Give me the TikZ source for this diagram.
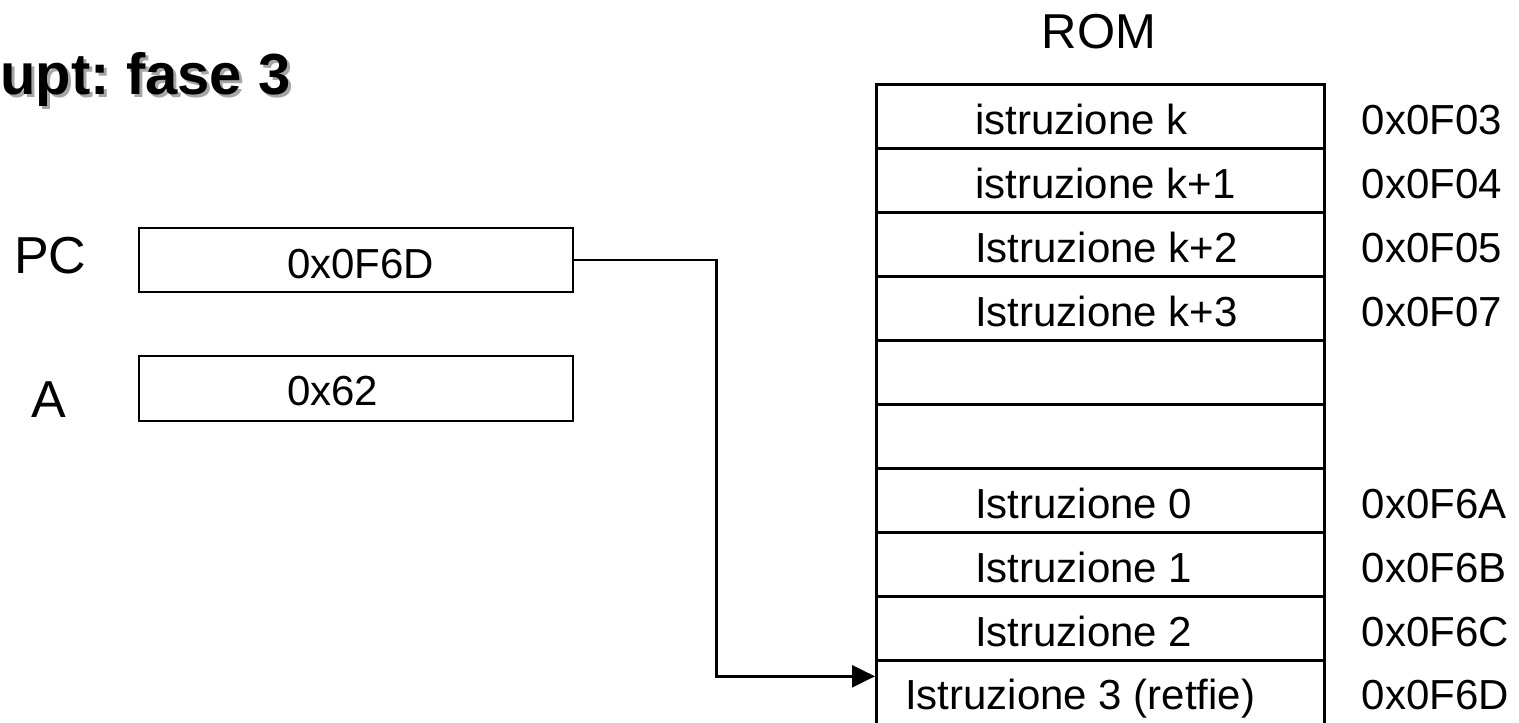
\documentclass[tikz,border=0pt]{standalone}
\usepackage{fontspec}
\setmainfont{Liberation Sans}
\usetikzlibrary{arrows.meta}
\newcommand\fsz[1]{\fontsize{#1}{#1}\selectfont}
\begin{document}
\begin{tikzpicture}[x=1pt,y=-1pt,
  reg/.style={draw,line width=2.2pt,minimum width=434pt,minimum height=64pt,inner sep=0pt,anchor=north west},
  cell/.style={draw,line width=2.6pt,minimum width=448pt,minimum height=64pt,inner sep=0pt,anchor=north west},
  txt/.style={inner sep=0pt,anchor=base west,font=\fsz{42}},
  big/.style={inner sep=0pt,anchor=base west,font=\fsz{52}},
  ttl/.style={inner sep=0pt,anchor=base west,font=\fsz{58}\bfseries},
  link/.style={line width=2.6pt,-{Triangle[length=23pt,width=22pt]}}]
\useasboundingbox (0,0) rectangle (1519,723);

% title with drop shadow
\node[ttl,text=black!35] (titleshadow) at (3,97) {upt:\hspace{-5pt} fase 3};
\node[ttl] (title) at (0,94) {upt:\hspace{-5pt} fase 3};

% registers
\node[big] (pclabel) at (14,273) {PC};
\node[big] (alabel) at (31,417) {A};
\node[reg] (pc) at (138,227) {};
\node[reg,minimum height=65pt] (areg) at (138,355) {};
\node[txt] (pcval) at ([shift={(149,51)}]pc.north west) {0x0F6D};
\node[txt] (aval) at ([shift={(149,50)}]areg.north west) {0x62};

% ROM
\node[inner sep=0pt,anchor=base,font=\fsz{49}] (romtitle) at (1099,48) {ROM};
\foreach \i in {1,...,10}
  \node[cell] (r\i) at (875,{83+64*(\i-1)}) {};

\foreach \i/\ins/\adr in {1/istruzione k/0x0F03, 2/istruzione k+1/0x0F04,
    3/Istruzione k+2/0x0F05, 4/Istruzione k+3/0x0F07, 7/Istruzione 0/0x0F6A,
    8/Istruzione 1/0x0F6B, 9/Istruzione 2/0x0F6C} {
  \node[txt] (t\i) at ([shift={(100,51)}]r\i.north west) {\ins};
  \node[txt] (a\i) at ([shift={(36,51)}]r\i.north east) {\adr};
}
\node[txt] (t10) at ([shift={(30,50)}]r10.north west) {Istruzione 3 (retfie)};
\node[txt] (a10) at ([shift={(36,50)}]r10.north east) {0x0F6D};

% PC points into ROM
\coordinate (tip) at ([yshift=16pt]r10.west);
\draw[link] (pc.east) -- ++(142,0) |- (tip);
\end{tikzpicture}
\end{document}
